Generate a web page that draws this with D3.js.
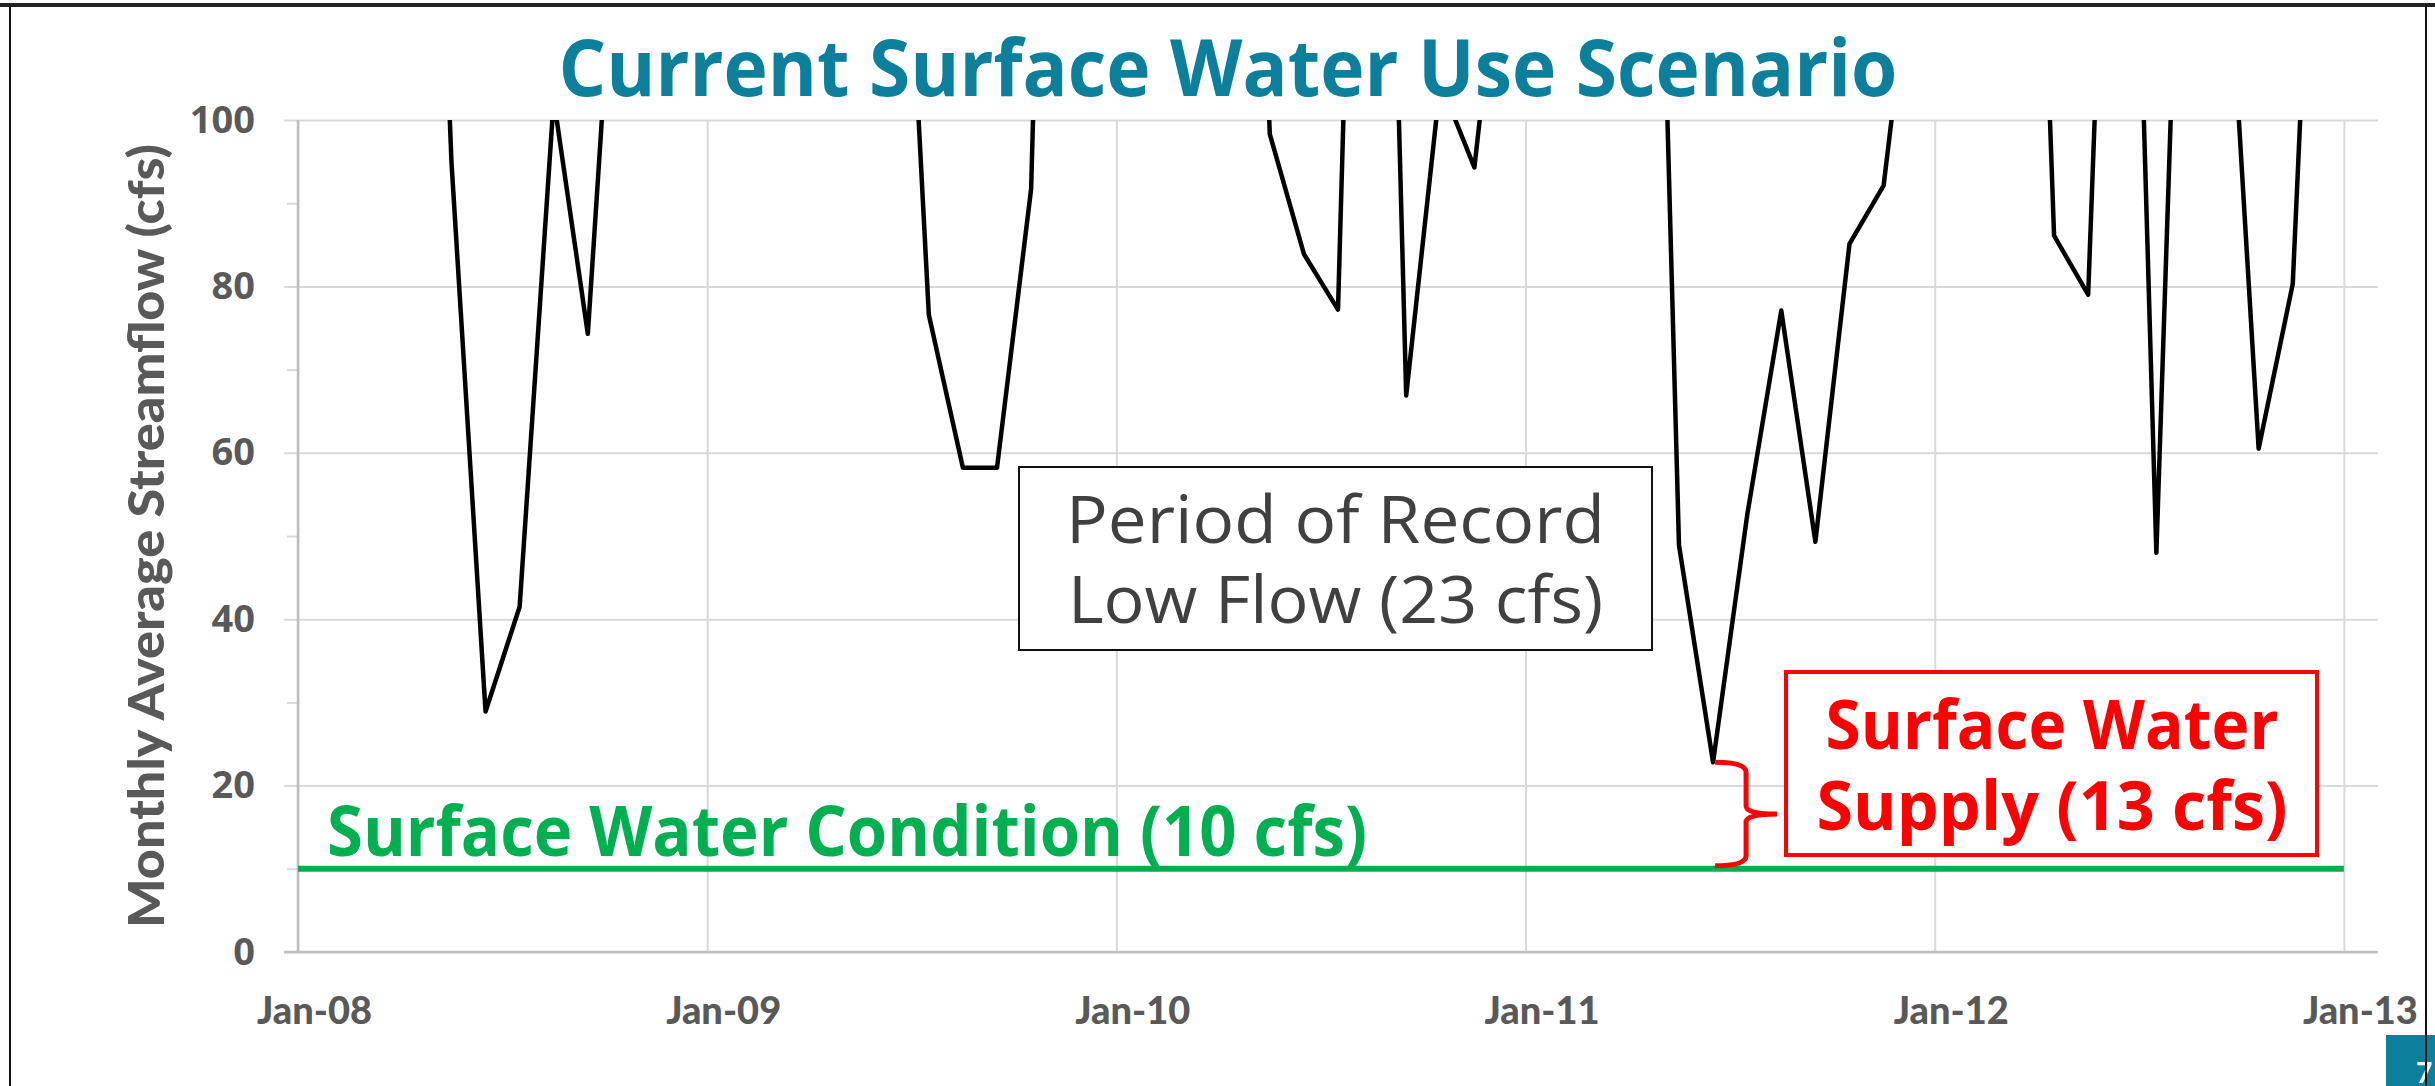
<!DOCTYPE html>
<html lang="en">
<head>
  <meta charset="UTF-8">
  <title>Current Surface Water Use Scenario</title>
  <script src="https://d3js.org/d3.v7.min.js"></script>
  <style>
    body { margin: 0; background: #fff; }
    svg { display: block; }
    .grid line { stroke: #d9d9d9; stroke-width: 2; }
    .grid .domain { display: none; }
    .ylab text { font-family: "Open Sans", sans-serif; font-weight: bold; font-size: 38px; fill: #595959; }
    .xlab text { font-family: Lato, sans-serif; font-weight: 900; font-size: 38px; fill: #595959; }
  </style>
</head>
<body>
  <div id="chart"></div>

  <script>
    const width = 2435;
    const height = 1086;

    // monthly average streamflow, Jan 2008 - Dec 2012 (values above 100 run off the top of the chart)
    const months = [
      "2008-01","2008-02","2008-03","2008-04","2008-05","2008-06","2008-07","2008-08","2008-09","2008-10","2008-11","2008-12",
      "2009-01","2009-02","2009-03","2009-04","2009-05","2009-06","2009-07","2009-08","2009-09","2009-10","2009-11","2009-12",
      "2010-01","2010-02","2010-03","2010-04","2010-05","2010-06","2010-07","2010-08","2010-09","2010-10","2010-11","2010-12",
      "2011-01","2011-02","2011-03","2011-04","2011-05","2011-06","2011-07","2011-08","2011-09","2011-10","2011-11","2011-12",
      "2012-01","2012-02","2012-03","2012-04","2012-05","2012-06","2012-07","2012-08","2012-09","2012-10","2012-11","2012-12"
    ];
    const flow = [
      250, 300, 350, 200, 95, 28.9, 41.5, 102.5, 74.3, 137, 180, 250,
      300, 320, 400, 350, 250, 155, 76.6, 58.2, 58.2, 91.7, 240, 300,
      350, 400, 380, 200, 98.3, 83.9, 77.2, 222, 66.9, 104.5, 94.3, 131,
      250, 300, 280, 200, 48.9, 22.8, 52.5, 77.1, 49.3, 85.1, 92.1, 126,
      250, 300, 202, 86.1, 79.0, 190, 48.0, 172, 128.6, 60.5, 80.3, 171
    ];

    const xTickLabels = ["Jan-08", "Jan-09", "Jan-10", "Jan-11", "Jan-12", "Jan-13"];
    const yTicks = [0, 20, 40, 60, 80, 100];
    const yMinorTicks = [10, 30, 50, 70, 90];

    const conditionFlow = 10;   // surface water condition
    const startYear = 2008;

    const parseMonth = d3.timeParse("%Y-%m");
    const data = months.map((m, i) => {
      const dt = parseMonth(m);
      return { idx: (dt.getFullYear() - startYear) * 12 + dt.getMonth(), value: flow[i] };
    });

    const svg = d3.select("#chart")
      .append("svg")
      .attr("width", width)
      .attr("height", height);

    // plot area
    const pLeft = 298, pRight = 2378, pTop = 120, pBottom = 952;

    // x is in months from Jan-08; each point sits in the middle of its month
    const x = d3.scaleLinear().domain([0, 61]).range([pLeft, pRight]);
    const y = d3.scaleLinear().domain([0, 100]).range([pBottom, pTop]);

    // slide frame
    svg.append("rect")
      .attr("x", 10).attr("y", 5)
      .attr("width", 2416).attr("height", height + 20)
      .attr("fill", "none")
      .attr("stroke", "#111")
      .attr("stroke-width", 2);
    svg.append("line")
      .attr("x1", 0).attr("x2", width)
      .attr("y1", 5).attr("y2", 5)
      .attr("stroke", "#222")
      .attr("stroke-width", 4);

    // title
    svg.append("text")
      .attr("x", 1228).attr("y", 96)
      .attr("text-anchor", "middle")
      .attr("textLength", 1339)
      .attr("lengthAdjust", "spacingAndGlyphs")
      .style("font-family", "'Open Sans', sans-serif")
      .style("font-weight", "bold")
      .style("font-size", "78px")
      .style("fill", "#0b7f9b")
      .text("Current Surface Water Use Scenario");

    // horizontal gridlines (with the little outside tick marks)
    svg.append("g")
      .attr("class", "grid")
      .attr("transform", `translate(${pLeft - 14},0)`)
      .call(d3.axisRight(y).tickValues(yTicks).tickSize(pRight - pLeft + 14).tickFormat(""));

    // vertical gridlines
    const xTickVals = xTickLabels.map((d, i) => i * 12);
    svg.append("g")
      .attr("class", "grid")
      .attr("transform", `translate(0,${pBottom})`)
      .call(d3.axisBottom(x).tickValues(xTickVals).tickSize(-(pBottom - pTop)).tickFormat(""));

    // minor ticks on the y axis
    svg.append("g")
      .attr("class", "grid")
      .attr("transform", `translate(${pLeft},0)`)
      .call(d3.axisLeft(y).tickValues(yMinorTicks).tickSize(11).tickFormat(""));

    // axis lines
    svg.append("line")
      .attr("x1", pLeft).attr("x2", pLeft)
      .attr("y1", pTop).attr("y2", pBottom)
      .attr("stroke", "#bfbfbf").attr("stroke-width", 2.5);
    svg.append("line")
      .attr("x1", pLeft - 14).attr("x2", pRight)
      .attr("y1", pBottom).attr("y2", pBottom)
      .attr("stroke", "#bfbfbf").attr("stroke-width", 2.5);

    // y tick labels
    const yAxis = svg.append("g")
      .attr("class", "ylab")
      .attr("transform", `translate(${pLeft},0)`)
      .call(d3.axisLeft(y).tickValues(yTicks).tickSize(14).tickPadding(29));
    yAxis.select(".domain").remove();
    yAxis.selectAll("line").remove();

    // x tick labels
    const xAxis = svg.append("g")
      .attr("class", "xlab")
      .attr("transform", `translate(0,${pBottom})`)
      .call(d3.axisBottom(x).tickValues(xTickVals).tickFormat((d, i) => xTickLabels[i]).tickSize(0));
    xAxis.select(".domain").remove();
    xAxis.selectAll("text").attr("dx", 16).attr("dy", 0).attr("y", 72);

    // y axis title
    svg.append("text")
      .attr("transform", `translate(164,${(pTop + pBottom) / 2}) rotate(-90)`)
      .attr("text-anchor", "middle")
      .attr("textLength", 784)
      .attr("lengthAdjust", "spacingAndGlyphs")
      .style("font-family", "Lato, sans-serif")
      .style("font-weight", "900")
      .style("font-size", "49px")
      .style("fill", "#595959")
      .text("Monthly Average Streamflow (cfs)");

    // surface water condition line
    svg.append("line")
      .attr("x1", pLeft).attr("x2", x(60))
      .attr("y1", y(conditionFlow)).attr("y2", y(conditionFlow))
      .attr("stroke", "#00b050")
      .attr("stroke-width", 6);

    svg.append("text")
      .attr("x", 327).attr("y", 856)
      .attr("textLength", 1040)
      .attr("lengthAdjust", "spacingAndGlyphs")
      .style("font-family", "'Open Sans', sans-serif")
      .style("font-weight", "bold")
      .style("font-size", "70px")
      .style("fill", "#00b050")
      .text("Surface Water Condition (10 cfs)");

    // streamflow line, clipped at 100 cfs
    svg.append("clipPath")
      .attr("id", "plot-clip")
      .append("rect")
      .attr("x", pLeft).attr("y", pTop)
      .attr("width", pRight - pLeft).attr("height", pBottom - pTop);

    const line = d3.line()
      .x(d => x(d.idx + 0.5))
      .y(d => y(d.value));

    svg.append("path")
      .datum(data)
      .attr("clip-path", "url(#plot-clip)")
      .attr("fill", "none")
      .attr("stroke", "#000")
      .attr("stroke-width", 4.5)
      .attr("stroke-linejoin", "round")
      .attr("d", line);

    // period of record box
    svg.append("rect")
      .attr("x", 1019).attr("y", 467)
      .attr("width", 633).attr("height", 183)
      .attr("fill", "#fff")
      .attr("stroke", "#111")
      .attr("stroke-width", 2);
    svg.append("text")
      .attr("x", 1335.5).attr("y", 543)
      .attr("text-anchor", "middle")
      .attr("textLength", 539).attr("lengthAdjust", "spacingAndGlyphs")
      .style("font-family", "'Open Sans', sans-serif")
      .style("font-size", "66px")
      .style("fill", "#404040")
      .text("Period of Record");
    svg.append("text")
      .attr("x", 1335.5).attr("y", 623)
      .attr("text-anchor", "middle")
      .attr("textLength", 535).attr("lengthAdjust", "spacingAndGlyphs")
      .style("font-family", "'Open Sans', sans-serif")
      .style("font-size", "66px")
      .style("fill", "#404040")
      .text("Low Flow (23 cfs)");

    // brace between record low and the condition line
    const low = data.reduce((a, b) => (b.value < a.value ? b : a));
    const bx = x(low.idx + 0.5) + 2;
    const yT = y(low.value), yB = y(conditionFlow) - 3, yM = (yT + yB) / 2;
    const brace = d3.path();
    brace.moveTo(bx, yT);
    brace.quadraticCurveTo(bx + 31, yT, bx + 31, yT + 10);
    brace.lineTo(bx + 31, yM - 8);
    brace.quadraticCurveTo(bx + 31, yM, bx + 62, yM);
    brace.moveTo(bx + 62, yM);
    brace.quadraticCurveTo(bx + 31, yM, bx + 31, yM + 8);
    brace.lineTo(bx + 31, yB - 10);
    brace.quadraticCurveTo(bx + 31, yB, bx, yB);
    svg.append("path")
      .attr("d", brace.toString())
      .attr("fill", "none")
      .attr("stroke", "#ff0000")
      .attr("stroke-width", 5);

    // surface water supply box
    svg.append("rect")
      .attr("x", 1786).attr("y", 672)
      .attr("width", 531).attr("height", 183)
      .attr("fill", "#fff")
      .attr("stroke", "#ff0000")
      .attr("stroke-width", 4);
    svg.append("text")
      .attr("x", 2052).attr("y", 749)
      .attr("text-anchor", "middle")
      .attr("textLength", 453).attr("lengthAdjust", "spacingAndGlyphs")
      .style("font-family", "'Open Sans', sans-serif")
      .style("font-weight", "bold")
      .style("font-size", "68px")
      .style("fill", "#ff0000")
      .text("Surface Water");
    svg.append("text")
      .attr("x", 2052).attr("y", 830)
      .attr("text-anchor", "middle")
      .attr("textLength", 471).attr("lengthAdjust", "spacingAndGlyphs")
      .style("font-family", "'Open Sans', sans-serif")
      .style("font-weight", "bold")
      .style("font-size", "68px")
      .style("fill", "#ff0000")
      .text("Supply (13 cfs)");

    // slide number tab
    svg.append("rect")
      .attr("x", 2386).attr("y", 1035)
      .attr("width", 60).attr("height", 60)
      .attr("fill", "#0b7f9b");
    svg.append("text")
      .attr("x", 2416).attr("y", 1083)
      .style("font-family", "Lato, sans-serif")
      .style("font-weight", "bold")
      .style("font-size", "28px")
      .style("fill", "#fff")
      .text("7");
    svg.append("line")
      .attr("x1", 2426).attr("x2", 2426)
      .attr("y1", 5).attr("y2", height)
      .attr("stroke", "#111").attr("stroke-width", 2);
  </script>
</body>
</html>
